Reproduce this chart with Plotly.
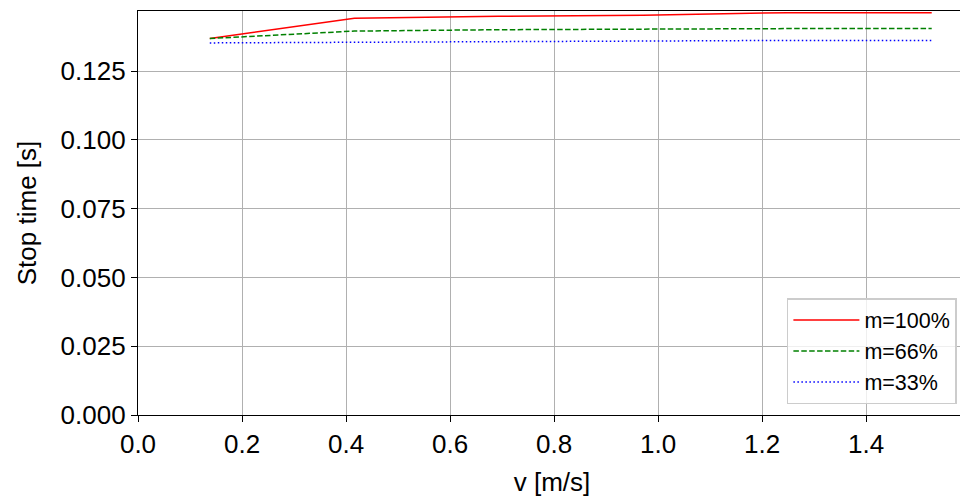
import plotly.graph_objects as go

v = [0.138, 0.416, 0.693, 0.971, 1.248, 1.526]
t_100 = [0.1369, 0.1443, 0.1450, 0.1454, 0.1463, 0.1463]
t_66 = [0.1369, 0.1396, 0.1401, 0.1404, 0.1405, 0.1405]
t_33 = [0.1353, 0.1355, 0.1359, 0.1361, 0.1362, 0.1362]
names = ["m=100%", "m=66%", "m=33%"]
x_ticks = [0, 0.2, 0.4, 0.6, 0.8, 1.0, 1.2, 1.4]
y_ticks = [0, 0.025, 0.05, 0.075, 0.1, 0.125]

FONT = "Liberation Sans, Arial, sans-serif"

fig = go.Figure()
fig.add_trace(go.Scatter(x=v, y=t_100, mode="lines", name=names[0],
                         line=dict(color="#ff0000", width=1.5)))
fig.add_trace(go.Scatter(x=v, y=t_66, mode="lines", name=names[1],
                         line=dict(color="#008000", width=1.5, dash="5.5px,2.4px")))
fig.add_trace(go.Scatter(x=v, y=t_33, mode="lines", name=names[2],
                         line=dict(color="#0000ff", width=1.5, dash="1.5px,2.5px")))

axis_common = dict(
    showline=True, linecolor="black", linewidth=1.2, mirror=True,
    ticks="outside", ticklen=6, tickwidth=1.2, tickcolor="black",
    showgrid=True, gridcolor="#b0b0b0", gridwidth=0.8,
    zeroline=False, tickfont=dict(size=26, color="black", family=FONT),
    automargin=False,
)

fig.update_xaxes(range=[0, 1.5919], tickvals=x_ticks,
                 tickformat=".1f",
                 title=dict(text="v [m/s]", font=dict(size=26, color="black", family=FONT), standoff=14),
                 **axis_common)
fig.update_yaxes(range=[0, 0.1469], tickvals=y_ticks,
                 tickformat=".3f",
                 title=dict(text="Stop time [s]", font=dict(size=26, color="black", family=FONT), standoff=16),
                 **axis_common)

fig.update_layout(
    width=960, height=494,
    margin=dict(l=130, r=2, t=3, b=87),
    paper_bgcolor="white", plot_bgcolor="white",
    font=dict(family=FONT, color="black", size=26),
    showlegend=True,
    legend=dict(x=0.989, y=0.027, xanchor="right", yanchor="bottom",
                itemwidth=66,
                bgcolor="rgba(255,255,255,0.8)", bordercolor="#cccccc", borderwidth=1.5,
                font=dict(size=21.5, color="black", family=FONT)),
)

fig.write_html("out.html")
